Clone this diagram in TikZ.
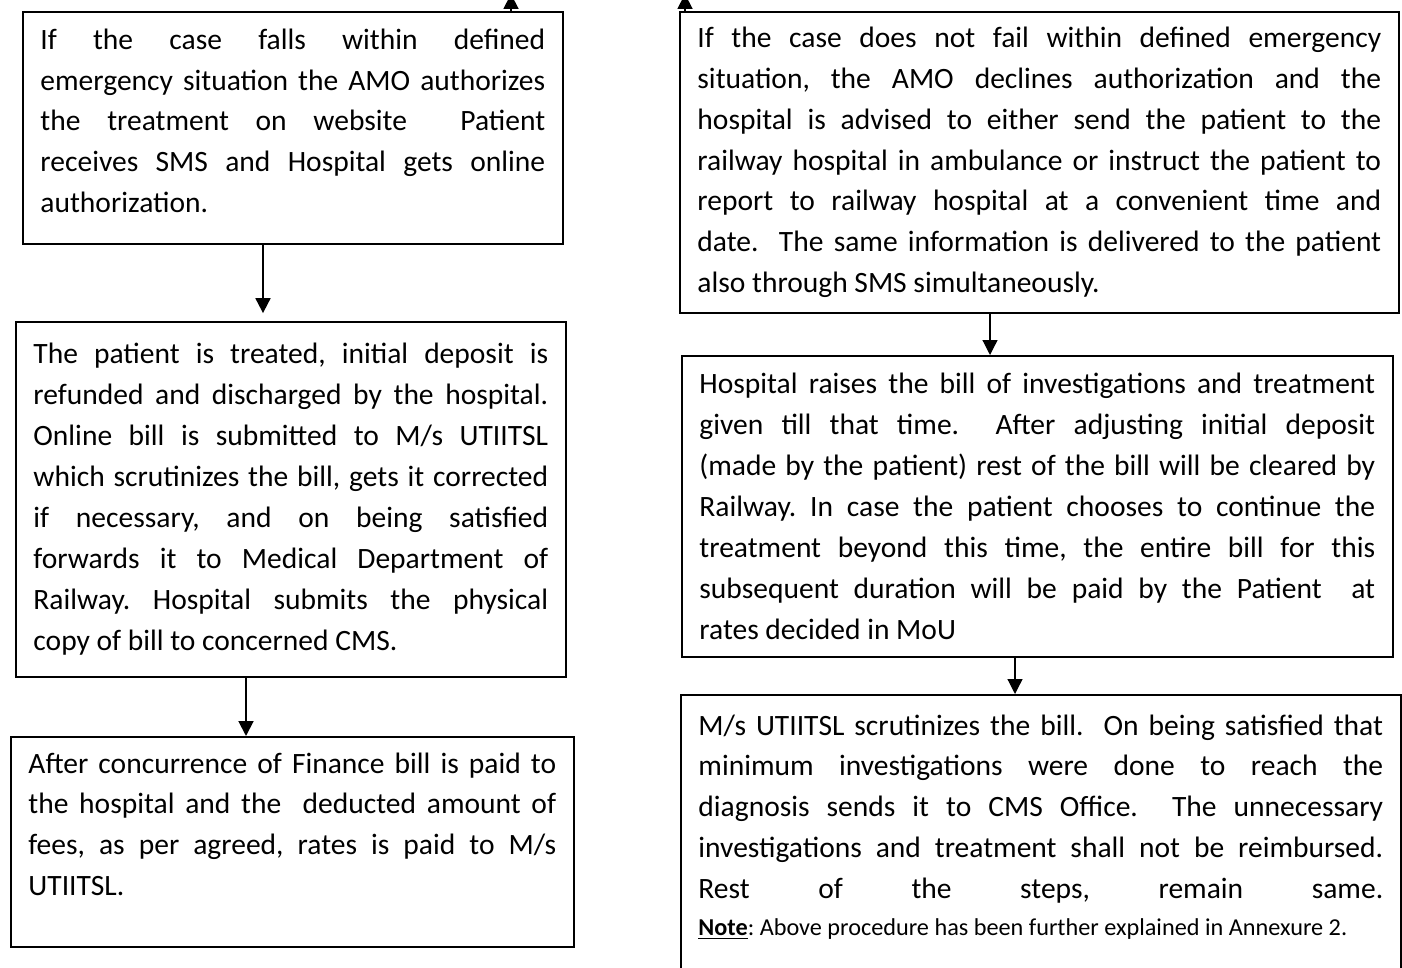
\documentclass[tikz,border=0pt]{standalone}
\usepackage{fontspec}
\setmainfont{Carlito}
\usetikzlibrary{arrows.meta}
\tolerance=9999
\emergencystretch=3em
\hbadness=10000
\frenchspacing
\newcommand{\padbelow}[1]{\par\nointerlineskip\noindent\rule{0pt}{#1}}
\tikzset{
  stepbox/.style={draw, line width=1pt, rectangle, anchor=north west, align=justify,
    inner xsep=10pt, inner ysep=0pt, font=\fontsize{16.8}{23.3}\selectfont},
  arr/.style={-{Triangle[width=8.5pt,length=8.5pt]}, line width=1.1pt}
}
\begin{document}
\begin{tikzpicture}[x=0.02cm,y=-0.02cm]
\useasboundingbox (0,0) rectangle (1402,967);
\clip (0,0) rectangle (1402,967);
% left column
\node[stepbox, text width=10.8cm-20pt, minimum height=4.64cm] (amoyes) at (22,11)
  {If the case falls within defined\linebreak emergency situation the AMO authorizes\linebreak the treatment on website\ \ Patient\linebreak receives SMS and Hospital gets online\linebreak authorization.\padbelow{8pt}};
\node[stepbox, text width=11cm-20pt, minimum height=7.1cm] (treated) at (15,321)
  {The patient is treated, initial deposit is\linebreak refunded and discharged by the hospital.\linebreak Online bill is submitted to M/s UTIITSL\linebreak which scrutinizes the bill, gets it corrected\linebreak if necessary, and on being satisfied\linebreak forwards it to Medical Department of\linebreak Railway. Hospital submits the physical\linebreak copy of bill to concerned CMS.};
\node[stepbox, text width=11.26cm-20pt, minimum height=4.2cm] (paid) at (10,736)
  {After concurrence of Finance bill is paid to\linebreak the hospital and the\ \ deducted amount of\linebreak fees, as per agreed, rates is paid to M/s\linebreak UTIITSL.\padbelow{20pt}};
% right column
\node[stepbox, text width=14.38cm-20pt, minimum height=6.02cm] (amono) at (679,11)
  {If the case does not fail within defined emergency\linebreak situation, the AMO declines authorization and the\linebreak hospital is advised to either send the patient to the\linebreak railway hospital in ambulance or instruct the patient to\linebreak report to railway hospital at a convenient time and\linebreak date.\ \ The same information is delivered to the patient\linebreak also through SMS simultaneously.};
\node[stepbox, text width=14.22cm-20pt, minimum height=6.02cm] (bill) at (681,355)
  {Hospital raises the bill of investigations and treatment\linebreak given till that time.\ \ After adjusting initial deposit\linebreak (made by the patient) rest of the bill will be cleared by\linebreak Railway. In case the patient chooses to continue the\linebreak treatment beyond this time, the entire bill for this\linebreak subsequent duration will be paid by the Patient\ \ at\linebreak rates decided in MoU};
\node[stepbox, text width=14.4cm-20pt, minimum height=5.92cm] (scrutiny) at (680,694)
  {M/s UTIITSL scrutinizes the bill.\ \ On being satisfied that\linebreak minimum investigations were done to reach the\linebreak diagnosis sends it to CMS Office.\ \ The unnecessary\linebreak investigations and treatment shall not be reimbursed.\linebreak Rest of the steps, remain same.{\parfillskip=0pt\par}
  {\fontsize{13.8}{21}\selectfont\underline{\textbf{Note}}: Above procedure has been further explained in Annexure 2.\par}\padbelow{18pt}};
% connectors
\coordinate (upL) at (511,-6);
\coordinate (upR) at (685,-6);
\coordinate (cL1) at (263,0);
\coordinate (cL2) at (246,0);
\coordinate (cR1) at (990,0);
\coordinate (cR2) at (1015,0);
\draw[arr] (amoyes.north -| upL) -- (upL);
\draw[arr] (amono.north -| upR) -- (upR);
\draw[arr, shorten >=4.5pt] (amoyes.south -| cL1) -- (treated.north -| cL1);
\draw[arr] (treated.south -| cL2) -- (paid.north -| cL2);
\draw[arr, line width=0.7pt] (amono.south -| cR1) -- (bill.north -| cR1);
\draw[arr, line width=0.7pt] (bill.south -| cR2) -- (scrutiny.north -| cR2);
\end{tikzpicture}
\end{document}
